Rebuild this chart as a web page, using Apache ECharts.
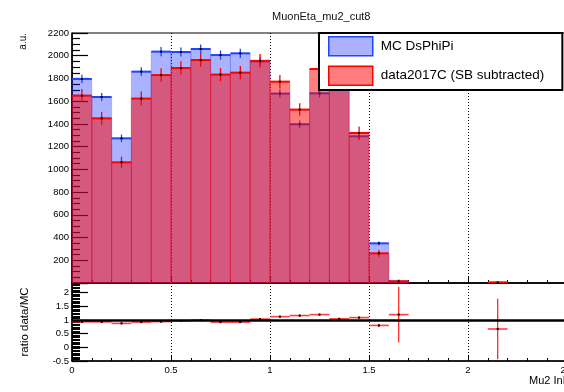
<!DOCTYPE html>
<html>
<head>
<meta charset="utf-8">
<script src="https://cdn.jsdelivr.net/npm/echarts@6/dist/echarts.min.js"></script>
<style>
  html, body { margin: 0; padding: 0; background: #fff; }
  #chart { width: 564px; height: 392px; }
</style>
</head>
<body>
<div id="chart"></div>
<script>
// Histogram binning (Mu2 eta, 0.1 wide bins); only filled bins are listed
const binWidth = 0.1;
const binCenters = [0.05, 0.15, 0.25, 0.35, 0.45, 0.55, 0.65, 0.75, 0.85, 0.95,
                    1.05, 1.15, 1.25, 1.35, 1.45, 1.55, 1.65, 2.15];

// MC DsPhiPi
const mcValues = [1795, 1637, 1273, 1860, 2036, 2033, 2059, 2006, 2021, 1950,
                  1667, 1397, 1669, 1830, 1291, 349, 12.5, 4.5];
const mcErrors = [38, 36, 34, 38, 40, 40, 40, 40, 40, 39,
                  37, 34, 37, 38, 33, 17, 4, 2];

// data2017C (SB subtracted)
const dataValues = [1649, 1449, 1062, 1623, 1830, 1892, 1962, 1834, 1851, 1955,
                    1772, 1526, 1883, 1835, 1320, 261, 15, 3];
const dataErrors = [59, 56, 50, 62, 60, 60, 60, 58, 58, 60,
                    58, 55, 60, 60, 58, 29, 15, 3];

// data / MC ratio
const ratioValues = [0.93, 0.93, 0.875, 0.92, 0.94, 0.97, 0.99, 0.92, 0.92, 1.03,
                     1.12, 1.16, 1.195, 1.04, 1.085, 0.80, 1.195, 0.67];
const ratioErrors = [0.03, 0.03, 0.03, 0.03, 0.03, 0.03, 0.03, 0.03, 0.03, 0.03,
                     0.03, 0.04, 0.04, 0.04, 0.04, 0.06, 1.02, 1.11];

// Axis tick values
const xTicks = [0, 0.5, 1, 1.5, 2, 2.5];
const yTicksTop = [0, 200, 400, 600, 800, 1000, 1200, 1400, 1600, 1800, 2000, 2200];
const yTicksRatio = [-0.5, 0, 0.5, 1, 1.5, 2];

const FONT = '"Liberation Sans", Arial, Helvetica, sans-serif';

function histRenderer(fill, edge, line) {
  return function (params, api) {
    const c = api.value(0), v = api.value(1), e = api.value(2);
    const tl = api.coord([c - binWidth / 2, v]);
    const br = api.coord([c + binWidth / 2, 0]);
    const mid = api.coord([c, v]);
    const hi = api.coord([c, v + e]);
    const lo = api.coord([c, Math.max(v - e, 0)]);
    return {
      type: 'group',
      children: [
        { type: 'rect', shape: { x: tl[0], y: tl[1], width: br[0] - tl[0], height: br[1] - tl[1] },
          style: { fill: fill, stroke: edge, lineWidth: 1 } },
        { type: 'line', shape: { x1: tl[0], y1: tl[1], x2: br[0], y2: tl[1] },
          style: { stroke: line, lineWidth: 2 } },
        { type: 'line', shape: { x1: mid[0], y1: hi[1], x2: mid[0], y2: lo[1] },
          style: { stroke: line, lineWidth: 1.3 } },
        { type: 'rect', shape: { x: mid[0] - 1, y: mid[1] - 1, width: 2, height: 2 },
          style: { fill: '#000' } }
      ]
    };
  };
}

function ratioRenderer(params, api) {
  const c = api.value(0), r = api.value(1), e = api.value(2);
  const l = api.coord([c - binWidth / 2, r]);
  const rr = api.coord([c + binWidth / 2, r]);
  const hi = api.coord([c, r + e]);
  const lo = api.coord([c, r - e]);
  return {
    type: 'group',
    children: [
      { type: 'line', shape: { x1: l[0], y1: l[1], x2: rr[0], y2: rr[1] },
        style: { stroke: 'rgba(255,30,30,0.85)', lineWidth: 1.6 } },
      { type: 'line', shape: { x1: hi[0], y1: hi[1], x2: lo[0], y2: lo[1] },
        style: { stroke: '#ff1a1a', lineWidth: 1.2 } },
      { type: 'rect', shape: { x: hi[0] - 1, y: l[1] - 1, width: 2, height: 2 },
        style: { fill: '#000' } }
    ]
  };
}

function zip3(a, b, c) {
  return a.map((x, i) => [x, b[i], c[i]]);
}

function tickFormatter(list) {
  return function (v) {
    for (const t of list) if (Math.abs(v - t) < 1e-6) return String(t);
    return '';
  };
}

const blueFill = 'rgba(0,20,255,0.33)';
const redFill = 'rgba(255,0,0,0.5)';

const commonX = {
  type: 'value', min: 0, max: 2.5, interval: 0.5,
  axisLine: { show: true, onZero: false, lineStyle: { color: '#000', width: 1.5 } },
  axisTick: { show: true, inside: true, length: 6, lineStyle: { color: '#000' } },
  minorTick: { show: true, splitNumber: 5, length: 3, lineStyle: { color: '#000' } },
  splitLine: { show: true, lineStyle: { color: '#000', type: [1, 2], width: 1 } }
};

const option = {
  animation: false,
  backgroundColor: '#fff',
  textStyle: { fontFamily: FONT },
  title: {
    text: 'MuonEta_mu2_cut8',
    left: 267, top: 6,
    textStyle: { fontSize: 11, fontWeight: 'normal', color: '#111', fontFamily: FONT }
  },
  legend: {
    orient: 'vertical',
    left: 319, top: 33,
    padding: [3, 18, 4, 9],
    itemWidth: 44, itemHeight: 19, itemGap: 9,
    backgroundColor: '#fff',
    borderColor: '#000', borderWidth: 2, borderRadius: 0,
    textStyle: { fontSize: 13.5, color: '#000', fontFamily: FONT, padding: [0, 0, 0, 3] },
    selectedMode: false,
    data: [
      { name: 'MC DsPhiPi', icon: 'rect',
        itemStyle: { color: 'rgb(170,178,255)', borderColor: '#1f45ff', borderWidth: 1.5 } },
      { name: 'data2017C (SB subtracted)', icon: 'rect',
        itemStyle: { color: 'rgb(255,125,125)', borderColor: '#ff0000', borderWidth: 1.5 } }
    ]
  },
  grid: [
    { left: 72, top: 33, width: 495, height: 250, outerBoundsMode: 'none', containLabel: false,
      show: true, borderColor: '#000', borderWidth: 1, backgroundColor: 'transparent' },
    { left: 72, top: 283, width: 495, height: 78, outerBoundsMode: 'none', containLabel: false,
      show: true, borderColor: '#000', borderWidth: 1, backgroundColor: 'transparent' }
  ],
  xAxis: [
    Object.assign({}, commonX, { gridIndex: 0, axisLabel: { show: false } }),
    Object.assign({}, commonX, {
      gridIndex: 1,
      axisLabel: { show: true, fontSize: 9.5, color: '#000', margin: 4, formatter: tickFormatter(xTicks) }
    })
  ],
  yAxis: [
    {
      gridIndex: 0, type: 'value', min: 0, max: 2200, interval: 200,
      axisLine: { show: true, lineStyle: { color: '#000', width: 1.5 } },
      axisTick: { show: true, inside: true, length: 16, lineStyle: { color: '#000', width: 1.2 } },
      minorTick: { show: true, splitNumber: 4, length: 8, lineStyle: { color: '#000', width: 1.2 } },
      splitLine: { show: false },
      axisLabel: { fontSize: 9.5, color: '#000', margin: 3, showMinLabel: false, formatter: tickFormatter(yTicksTop) }
    },
    {
      gridIndex: 1, type: 'value', min: -0.5, max: 2.35, interval: 0.5,
      axisLine: { show: true, lineStyle: { color: '#000', width: 1.5 } },
      axisTick: { show: true, inside: true, length: 16, lineStyle: { color: '#000', width: 1.2 } },
      minorTick: { show: true, splitNumber: 10, length: 8, lineStyle: { color: '#000', width: 1 } },
      splitLine: { show: false },
      axisLabel: { fontSize: 9.5, color: '#000', margin: 3, formatter: tickFormatter(yTicksRatio) }
    }
  ],
  series: [
    {
      name: 'MC DsPhiPi', type: 'custom', xAxisIndex: 0, yAxisIndex: 0, z: 2, clip: true,
      renderItem: histRenderer(blueFill, 'rgba(40,70,255,0.25)', '#1f45ff'),
      encode: { x: 0, y: 1 },
      data: zip3(binCenters, mcValues, mcErrors)
    },
    {
      name: 'data2017C (SB subtracted)', type: 'custom', xAxisIndex: 0, yAxisIndex: 0, z: 3, clip: true,
      renderItem: histRenderer(redFill, 'rgba(255,0,0,0.35)', '#ff0000'),
      encode: { x: 0, y: 1 },
      data: zip3(binCenters, dataValues, dataErrors)
    },
    {
      name: 'ratio', type: 'custom', xAxisIndex: 1, yAxisIndex: 1, z: 3, clip: true,
      renderItem: ratioRenderer,
      encode: { x: 0, y: 1 },
      data: zip3(binCenters, ratioValues, ratioErrors),
      markLine: {
        silent: true, symbol: 'none', label: { show: false },
        lineStyle: { color: '#000', width: 2.5, type: 'solid' },
        data: [{ yAxis: 1 }]
      }
    }
  ],
  graphic: [
    { type: 'text', x: 23, y: 33, rotation: Math.PI / 2,
      style: { text: 'a.u.', fontSize: 10, fontFamily: FONT, fill: '#000', textAlign: 'right', textVerticalAlign: 'middle' } },
    { type: 'text', x: 25, y: 322, rotation: Math.PI / 2,
      style: { text: 'ratio data/MC', fontSize: 11.5, fontFamily: FONT, fill: '#000', textAlign: 'center', textVerticalAlign: 'middle' } },
    { type: 'text', x: 529, y: 375,
      style: { text: 'Mu2 InEta', fontSize: 11, fontFamily: FONT, fill: '#000', textAlign: 'left', textVerticalAlign: 'top' } }
  ]
};

const chart = echarts.init(document.getElementById('chart'), null, { renderer: 'canvas' });
chart.setOption(option);
</script>
</body>
</html>
